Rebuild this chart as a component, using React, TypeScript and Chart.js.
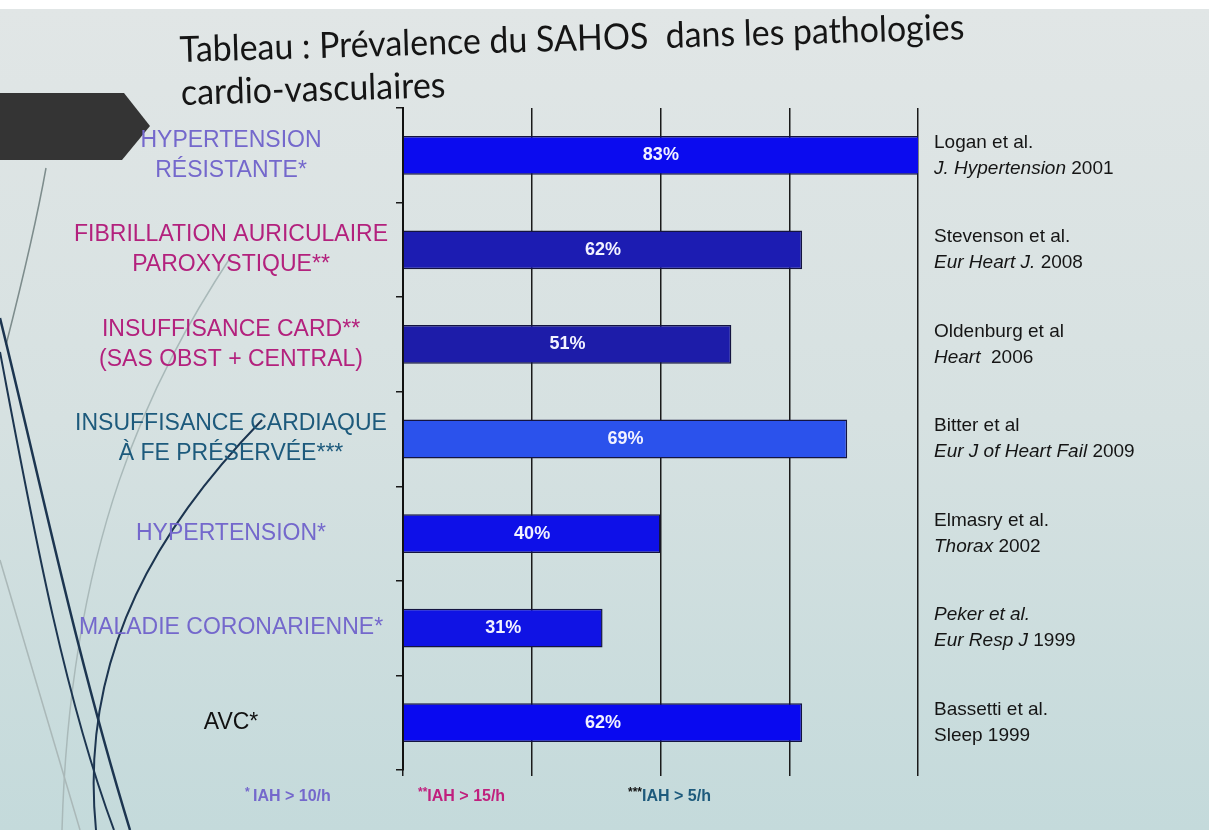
import React, { useEffect, useRef } from "react";
import { Chart, registerables } from "chart.js";
Chart.register(...registerables);

// ---------- data ----------
const categories: (string | string[])[] = [
  ["HYPERTENSION", "RÉSISTANTE*"],
  ["FIBRILLATION AURICULAIRE", "PAROXYSTIQUE**"],
  ["INSUFFISANCE CARD**", "(SAS OBST + CENTRAL)"],
  ["INSUFFISANCE CARDIAQUE", "À FE PRÉSERVÉE***"],
  "HYPERTENSION*",
  "MALADIE CORONARIENNE*",
  "AVC*",
];
const values = [83, 62, 51, 69, 40, 31, 62];
const barColors = ["#0b0bef", "#1c1cb2", "#1d1ca9", "#2b52ec", "#0e10e8", "#1013e4", "#0909f0"];
const labelColors = ["#7468cc", "#b3217d", "#b3217d", "#1d5a7c", "#7468cc", "#7468cc", "#111111"];
const xMin = 0;
const xMax = 80;
const xStep = 20;

const refAuthors = ["Logan et al.", "Stevenson et al.", "Oldenburg et al", "Bitter et al", "Elmasry et al.", "Peker et al.", "Bassetti et al."];
const refAuthorItalic = [false, false, false, false, false, true, false];
const refJournals = ["J. Hypertension", "Eur Heart J.", "Heart ", "Eur J of Heart Fail", "Thorax", "Eur Resp J", "Sleep"];
const refJournalItalic = [true, true, true, true, true, true, false];
const refYears = ["2001", "2008", "2006", "2009", "2002", "1999", "1999"];

const noteMarks = ["* ", "**", "***"];
const noteTexts = ["IAH > 10/h", "IAH > 15/h", "IAH > 5/h"];
const noteColors = ["#7468cc", "#c0207e", "#1d5a7c"];
const noteMarkColors = ["#7468cc", "#c0207e", "#111111"];

const titleLines = ["Tableau : Prévalence du SAHOS  dans les pathologies", "cardio-vasculaires"];

const SANS = '"Liberation Sans", Arial, sans-serif';

// ---------- plugins ----------
const slidePlugin = {
  id: "slide",
  beforeDraw(chart: any) {
    const ctx = chart.ctx as CanvasRenderingContext2D;
    const W = chart.width;
    const H = chart.height;
    ctx.save();
    ctx.fillStyle = "#ffffff";
    ctx.fillRect(0, 0, W, H);
    const g = ctx.createLinearGradient(0, 9, 0, H);
    g.addColorStop(0, "#e1e6e6");
    g.addColorStop(0.5, "#d6e1e1");
    g.addColorStop(1, "#c4dadb");
    ctx.fillStyle = g;
    ctx.fillRect(0, 9, W, H - 9);

    // arrow block
    ctx.fillStyle = "#343434";
    ctx.beginPath();
    ctx.moveTo(0, 93);
    ctx.lineTo(124, 93);
    ctx.lineTo(150, 126);
    ctx.lineTo(122, 160);
    ctx.lineTo(0, 160);
    ctx.closePath();
    ctx.fill();

    // decorative curves
    const stroke = (color: string, w: number, pts: number[]) => {
      ctx.strokeStyle = color;
      ctx.lineWidth = w;
      ctx.beginPath();
      ctx.moveTo(pts[0], pts[1]);
      ctx.bezierCurveTo(pts[2], pts[3], pts[4], pts[5], pts[6], pts[7]);
      ctx.stroke();
    };
    stroke("#7d8c8c", 1.5, [46, 168, 35, 230, 20, 290, 6, 345]);
    stroke("#a9b9b9", 1.5, [232, 255, 150, 380, 70, 540, 62, 830]);
    stroke("#aab8b8", 1.5, [0, 560, 30, 660, 60, 760, 80, 830]);
    stroke("#1c3550", 2.5, [0, 318, 40, 480, 75, 650, 130, 830]);
    stroke("#1c3550", 2, [0, 352, 30, 510, 62, 690, 114, 830]);
    stroke("#1c3550", 2, [262, 420, 165, 520, 78, 650, 96, 830]);

    // title
    ctx.translate(180, 62);
    ctx.rotate(-0.029);
    ctx.fillStyle = "#151515";
    ctx.textAlign = "left";
    ctx.textBaseline = "alphabetic";
    ctx.font = `36px Lato, "Open Sans", sans-serif`;
    const w = ctx.measureText(titleLines[0]).width;
    ctx.scale(785 / w, 1);
    ctx.fillText(titleLines[0], 0, 0);
    ctx.fillText(titleLines[1], 0, 43);
    ctx.restore();
  },
};

const barLabelPlugin = {
  id: "barLabels",
  afterDatasetsDraw(chart: any) {
    const ctx = chart.ctx as CanvasRenderingContext2D;
    const ca = chart.chartArea;
    const meta = chart.getDatasetMeta(0);
    ctx.save();
    ctx.fillStyle = "#f2f2ff";
    ctx.font = `bold 18px ${SANS}`;
    ctx.textAlign = "center";
    ctx.textBaseline = "middle";
    meta.data.forEach((bar: any, i: number) => {
      const p = bar.getProps(["x", "y", "base"], true);
      const right = Math.min(p.x, ca.right);
      ctx.fillText(values[i] + "%", (p.base + right) / 2, p.y);
    });
    ctx.restore();
  },
};

const refsPlugin = {
  id: "refs",
  afterDraw(chart: any) {
    const ctx = chart.ctx as CanvasRenderingContext2D;
    const ca = chart.chartArea;
    const ys = chart.scales.y;
    ctx.save();
    ctx.fillStyle = "#151515";
    ctx.textAlign = "left";
    ctx.textBaseline = "middle";
    const x0 = ca.right + 16;
    const fs = 19;
    categories.forEach((_, i) => {
      const yc = ys.getPixelForValue(i);
      ctx.font = `${refAuthorItalic[i] ? "italic " : ""}${fs}px ${SANS}`;
      ctx.fillText(refAuthors[i], x0, yc - 13);
      ctx.font = `${refJournalItalic[i] ? "italic " : ""}${fs}px ${SANS}`;
      ctx.fillText(refJournals[i], x0, yc + 13);
      const jw = ctx.measureText(refJournals[i] + " ").width;
      ctx.font = `${fs}px ${SANS}`;
      ctx.fillText(refYears[i], x0 + jw, yc + 13);
    });

    // footnotes
    const noteX = [ca.left - 158, ca.left + 15, ca.left + 225];
    const noteY = 797;
    ctx.textBaseline = "middle";
    noteTexts.forEach((t, i) => {
      ctx.font = `bold 12px ${SANS}`;
      ctx.fillStyle = noteMarkColors[i];
      ctx.fillText(noteMarks[i], noteX[i], noteY - 4);
      const mw = ctx.measureText(noteMarks[i]).width;
      ctx.font = `bold 16px ${SANS}`;
      ctx.fillStyle = noteColors[i];
      ctx.fillText(t, noteX[i] + mw, noteY);
    });
    ctx.restore();
  },
};

export default function App() {
  const ref = useRef<HTMLCanvasElement | null>(null);
  useEffect(() => {
    document.body.style.margin = "0";
    if (!ref.current) return;
    const chart = new Chart(ref.current, {
      type: "bar",
      data: {
        labels: categories as any,
        datasets: [
          {
            data: values,
            backgroundColor: barColors,
            borderColor: "#141440",
            borderWidth: 1.5,
            barPercentage: 0.41,
            categoryPercentage: 1,
          },
        ],
      },
      options: {
        animation: false,
        responsive: false,
        maintainAspectRatio: false,
        indexAxis: "y",
        layout: { padding: { top: 108, right: 291, bottom: 54, left: 0 } },
        plugins: {
          legend: { display: false },
          tooltip: { enabled: false },
          title: { display: false },
        },
        scales: {
          x: {
            min: xMin,
            max: xMax,
            ticks: { display: false, stepSize: xStep },
            grid: { color: "#1a1a1a", lineWidth: 1.5, tickLength: 6, drawTicks: true },
            border: { display: false },
          },
          y: {
            type: "category",
            offset: true,
            grid: {
              display: true,
              offset: true,
              drawOnChartArea: false,
              tickLength: 7,
              color: "#1a1a1a",
              lineWidth: 1.5,
            },
            border: { display: true, color: "#111111", width: 2 },
            ticks: {
              autoSkip: false,
              crossAlign: "center",
              padding: 8,
              color: (c: any) => labelColors[c.index],
              font: { family: SANS, size: 23, lineHeight: 1.3 },
            },
            afterFit: (s: any) => {
              s.width = 403;
            },
          },
        },
      } as any,
      plugins: [slidePlugin, barLabelPlugin, refsPlugin],
    });
    return () => chart.destroy();
  }, []);
  return (
    <div style={{ width: 1209, height: 830 }}>
      <canvas ref={ref} width={1209} height={830} style={{ display: "block" }} />
    </div>
  );
}
